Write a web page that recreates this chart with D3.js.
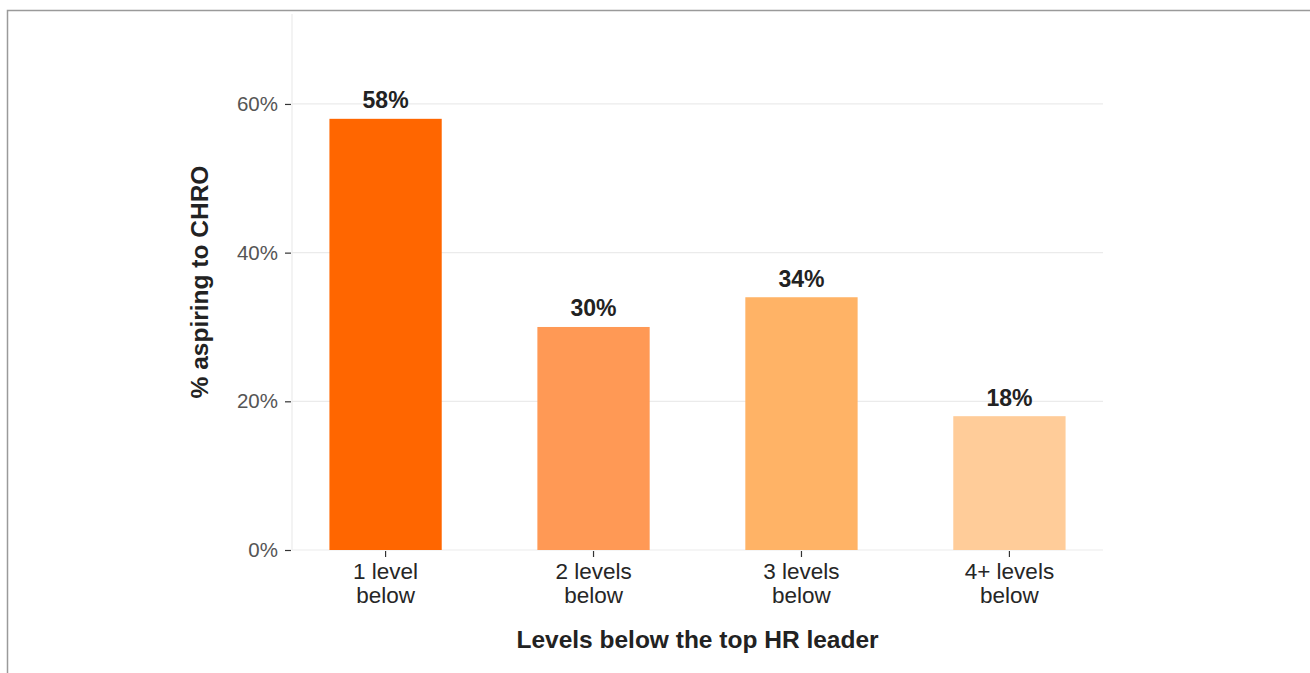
<!DOCTYPE html>
<html>
<head>
<meta charset="utf-8">
<script src="https://cdn.jsdelivr.net/npm/d3@7"></script>
<style>
  html, body { margin: 0; padding: 0; background: #fff; }
  svg { display: block; font-family: "Liberation Sans", Arial, sans-serif; }
</style>
</head>
<body>
<svg id="chart" width="1310" height="673"></svg>
<script>
// Share of respondents aspiring to the CHRO role, by level below the top HR leader
const categories = ["1 level\nbelow", "2 levels\nbelow", "3 levels\nbelow", "4+ levels\nbelow"];
const values = [58, 30, 34, 18];
const barColors = ["#FF6600", "#FF9955", "#FFB366", "#FFCC99"];
const yTicks = [0, 20, 40, 60];
const yTitle = "% aspiring to CHRO";
const xTitle = "Levels below the top HR leader";

const W = 1310, H = 673;
const panel = { left: 292, right: 1103, top: 14, bottom: 550 };

const svg = d3.select("#chart");

// outer frame
svg.append("rect")
  .attr("x", 7.5).attr("y", 10.5)
  .attr("width", W + 20).attr("height", H + 20)
  .attr("fill", "none")
  .attr("stroke", "#9a9a9a")
  .attr("stroke-width", 1.5);

const x = d3.scaleBand()
  .domain(categories)
  .range([panel.left, panel.right])
  .paddingInner(0.46)
  .paddingOuter(0.18);

const y = d3.scaleLinear()
  .domain([0, 72.1])
  .range([panel.bottom, panel.top]);

// horizontal gridlines
svg.append("g")
  .selectAll("line")
  .data(yTicks)
  .join("line")
  .attr("x1", panel.left).attr("x2", panel.right)
  .attr("y1", d => y(d)).attr("y2", d => y(d))
  .attr("stroke", "#ebebeb")
  .attr("stroke-width", 1.2);

// light vertical axis line
svg.append("line")
  .attr("x1", panel.left).attr("x2", panel.left)
  .attr("y1", panel.top).attr("y2", panel.bottom)
  .attr("stroke", "#ebebeb")
  .attr("stroke-width", 1.2);

// bars
svg.append("g")
  .selectAll("rect")
  .data(values)
  .join("rect")
  .attr("x", (d, i) => x(categories[i]))
  .attr("width", x.bandwidth())
  .attr("y", d => y(d))
  .attr("height", d => y(0) - y(d))
  .attr("fill", (d, i) => barColors[i]);

// value labels
svg.append("g")
  .selectAll("text")
  .data(values)
  .join("text")
  .attr("x", (d, i) => x(categories[i]) + x.bandwidth() / 2)
  .attr("y", d => y(d) - 10.5)
  .attr("text-anchor", "middle")
  .attr("font-size", 23)
  .attr("font-weight", "bold")
  .attr("fill", "#222")
  .text(d => d + "%");

// y axis
const yAxis = d3.axisLeft(y)
  .tickValues(yTicks)
  .tickFormat(d => d + "%")
  .tickSize(6)
  .tickPadding(7);
const gy = svg.append("g")
  .attr("transform", `translate(${panel.left - 1},0)`)
  .call(yAxis);
gy.select(".domain").remove();
gy.selectAll(".tick line").attr("stroke", "#333").attr("stroke-width", 1.2);
gy.selectAll(".tick text")
  .attr("font-size", 20.5)
  .attr("fill", "#555")
  .attr("font-family", "Liberation Sans, Arial, sans-serif");

// x axis
const xAxis = d3.axisBottom(x).tickSize(6).tickPadding(4);
const gx = svg.append("g")
  .attr("transform", `translate(0,${panel.bottom + 1})`)
  .call(xAxis);
gx.select(".domain").remove();
gx.selectAll(".tick line").attr("stroke", "#333").attr("stroke-width", 1.2);
gx.selectAll(".tick text").each(function (d) {
  const t = d3.select(this);
  t.text(null)
    .attr("y", null)
    .attr("dy", null)
    .attr("font-size", 22.5)
    .attr("fill", "#262626")
    .attr("font-family", "Liberation Sans, Arial, sans-serif");
  d.split("\n").forEach((line, i) => {
    t.append("tspan")
      .attr("x", 0)
      .attr("y", 28 + i * 24)
      .text(line);
  });
});

// axis titles
svg.append("text")
  .attr("x", (panel.left + panel.right) / 2)
  .attr("y", 648)
  .attr("text-anchor", "middle")
  .attr("font-size", 24.5)
  .attr("font-weight", "bold")
  .attr("fill", "#222")
  .text(xTitle);

svg.append("text")
  .attr("transform", `translate(208,${(panel.top + panel.bottom) / 2}) rotate(-90)`)
  .attr("text-anchor", "middle")
  .attr("font-size", 24.5)
  .attr("font-weight", "bold")
  .attr("fill", "#222")
  .text(yTitle);
</script>
</body>
</html>
